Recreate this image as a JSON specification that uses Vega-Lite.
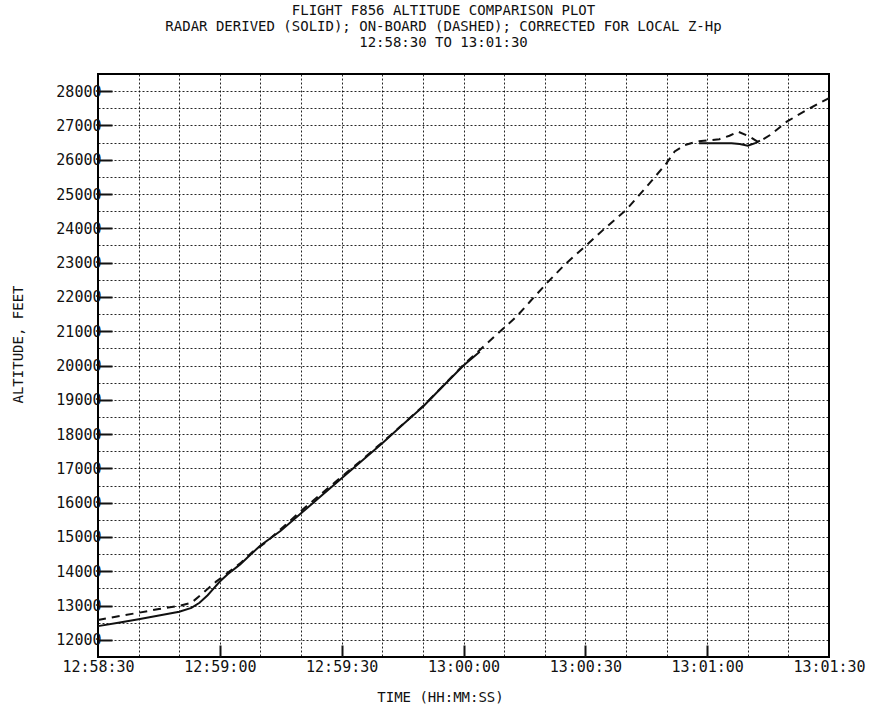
{
  "$schema": "https://vega.github.io/schema/vega-lite/v6.json",
  "autosize": {"type": "none"},
  "width": 731,
  "height": 583,
  "padding": {"left": 98, "top": 74, "right": 48, "bottom": 53},
  "background": "white",
  "config": {
    "font": "DejaVu Sans Mono",
    "view": {"stroke": "black", "strokeWidth": 2},
    "axis": {"labelFont": "DejaVu Sans Mono", "titleFont": "DejaVu Sans Mono", "labelColor": "#111", "titleColor": "#111", "labelOverlap": false}
  },
  "title": {
    "text": ["FLIGHT F856 ALTITUDE COMPARISON PLOT", "RADAR DERIVED (SOLID); ON-BOARD (DASHED); CORRECTED FOR LOCAL Z-Hp", "12:58:30 TO 13:01:30"],
    "font": "DejaVu Sans Mono",
    "fontSize": 14,
    "fontWeight": "normal",
    "lineHeight": 16,
    "color": "#111",
    "anchor": "middle",
    "baseline": "bottom",
    "offset": 10,
    "dx": -20
  },
  "datasets": {
    "radar": [
      {"t": 0, "alt": 12400, "seg": 1}, {"t": 5, "alt": 12500, "seg": 1}, {"t": 10, "alt": 12600, "seg": 1},
      {"t": 15, "alt": 12710, "seg": 1}, {"t": 20, "alt": 12820, "seg": 1}, {"t": 23, "alt": 12930, "seg": 1},
      {"t": 25, "alt": 13080, "seg": 1}, {"t": 27, "alt": 13300, "seg": 1}, {"t": 28.5, "alt": 13500, "seg": 1},
      {"t": 30, "alt": 13700, "seg": 1}, {"t": 32, "alt": 13920, "seg": 1}, {"t": 35, "alt": 14200, "seg": 1},
      {"t": 37, "alt": 14425, "seg": 1}, {"t": 40, "alt": 14750, "seg": 1}, {"t": 45, "alt": 15180, "seg": 1},
      {"t": 50, "alt": 15690, "seg": 1}, {"t": 55, "alt": 16200, "seg": 1}, {"t": 60, "alt": 16710, "seg": 1},
      {"t": 65, "alt": 17220, "seg": 1}, {"t": 70, "alt": 17730, "seg": 1}, {"t": 75, "alt": 18270, "seg": 1},
      {"t": 80, "alt": 18800, "seg": 1}, {"t": 85, "alt": 19400, "seg": 1}, {"t": 90, "alt": 20000, "seg": 1},
      {"t": 94, "alt": 20400, "seg": 1},
      {"t": 148, "alt": 26480, "seg": 2}, {"t": 152, "alt": 26480, "seg": 2}, {"t": 156, "alt": 26480, "seg": 2},
      {"t": 158, "alt": 26460, "seg": 2}, {"t": 160, "alt": 26410, "seg": 2}, {"t": 162, "alt": 26490, "seg": 2},
      {"t": 163, "alt": 26560, "seg": 2}
    ],
    "onboard": [
      {"t": 0, "alt": 12580}, {"t": 5, "alt": 12690}, {"t": 10, "alt": 12790}, {"t": 15, "alt": 12900},
      {"t": 20, "alt": 12990}, {"t": 23, "alt": 13080}, {"t": 26, "alt": 13380}, {"t": 29, "alt": 13690},
      {"t": 32, "alt": 13960}, {"t": 35, "alt": 14230}, {"t": 38, "alt": 14560}, {"t": 41.5, "alt": 14860},
      {"t": 47, "alt": 15440}, {"t": 50, "alt": 15760}, {"t": 55, "alt": 16260}, {"t": 60, "alt": 16760},
      {"t": 65, "alt": 17250}, {"t": 70, "alt": 17760}, {"t": 75, "alt": 18280}, {"t": 80, "alt": 18810},
      {"t": 85, "alt": 19410}, {"t": 90, "alt": 20020}, {"t": 95, "alt": 20560}, {"t": 100, "alt": 21100},
      {"t": 103, "alt": 21420}, {"t": 106.5, "alt": 21880}, {"t": 110.5, "alt": 22400}, {"t": 115, "alt": 22950},
      {"t": 120.3, "alt": 23510}, {"t": 125, "alt": 24020}, {"t": 130, "alt": 24530}, {"t": 135, "alt": 25200},
      {"t": 140, "alt": 25900}, {"t": 142, "alt": 26240}, {"t": 144.5, "alt": 26430}, {"t": 147.4, "alt": 26530},
      {"t": 150, "alt": 26560}, {"t": 153, "alt": 26600}, {"t": 155.5, "alt": 26700}, {"t": 157.6, "alt": 26820},
      {"t": 160.5, "alt": 26670}, {"t": 162.6, "alt": 26510}, {"t": 165.5, "alt": 26720}, {"t": 169.6, "alt": 27110},
      {"t": 174.5, "alt": 27450}, {"t": 180, "alt": 27800}
    ]
  },
  "encoding": {
    "x": {
      "field": "t", "type": "quantitative",
      "scale": {"domain": [0, 180], "nice": false, "zero": false},
      "axis": {
        "values": [0, 10, 20, 30, 40, 50, 60, 70, 80, 90, 100, 110, 120, 130, 140, 150, 160, 170, 180],
        "labelExpr": "datum.value % 30 === 0 ? timeFormat(datetime(2000, 0, 1, 12, 58, 30 + datum.value), '%H:%M:%S') : ''",
        "labelFontSize": 15,
        "labelPadding": 14,
        "labelBaseline": "top",
        "labelFlush": false,
        "labelOverlap": false,
        "grid": true,
        "gridDash": [2, 2],
        "gridColor": "#000",
        "gridOpacity": 0.85,
        "gridWidth": 1,
        "domain": false,
        "ticks": true,
        "tickSize": -12,
        "tickWidth": 2,
        "tickColor": "#111",
        "tickOpacity": {"condition": {"test": "datum.value % 30 === 0 && datum.value > 0 && datum.value < 180", "value": 1}, "value": 0},
        "title": "TIME (HH:MM:SS)",
        "titleFontSize": 14,
        "titleFontWeight": "normal",
        "titleX": 342,
        "titleY": 40,
        "titleBaseline": "middle",
        "titleAnchor": "middle"
      }
    },
    "y": {
      "field": "alt", "type": "quantitative",
      "scale": {"domain": [11500, 28500], "nice": false, "zero": false},
      "axis": {
        "values": [12000, 12500, 13000, 13500, 14000, 14500, 15000, 15500, 16000, 16500, 17000, 17500, 18000, 18500, 19000, 19500, 20000, 20500, 21000, 21500, 22000, 22500, 23000, 23500, 24000, 24500, 25000, 25500, 26000, 26500, 27000, 27500, 28000],
        "format": "d",
        "labelExpr": "datum.value % 1000 === 0 ? datum.label : ''",
        "labelFontSize": 15,
        "labelPadding": 11,
        "labelOverlap": false,
        "grid": true,
        "gridDash": [2, 2],
        "gridColor": "#000",
        "gridOpacity": 0.85,
        "gridWidth": 1,
        "domain": false,
        "ticks": true,
        "tickSize": -14,
        "tickWidth": 2,
        "tickColor": "#111",
        "tickOpacity": {"condition": {"test": "datum.value % 1000 === 0", "value": 1}, "value": 0},
        "title": "ALTITUDE, FEET",
        "titleFontSize": 14,
        "titleFontWeight": "normal",
        "titleAngle": -90,
        "titleX": -80,
        "titleY": 270,
        "titleBaseline": "middle",
        "titleAlign": "center"
      }
    }
  },
  "layer": [
    {
      "data": {"name": "radar"},
      "mark": {"type": "line", "color": "#111", "strokeWidth": 2},
      "encoding": {
        "detail": {"field": "seg", "type": "nominal"}
      }
    },
    {
      "data": {"name": "onboard"},
      "mark": {"type": "line", "color": "#111", "strokeWidth": 2, "strokeDash": [8, 6]},
      "encoding": {}
    }
  ]
}
